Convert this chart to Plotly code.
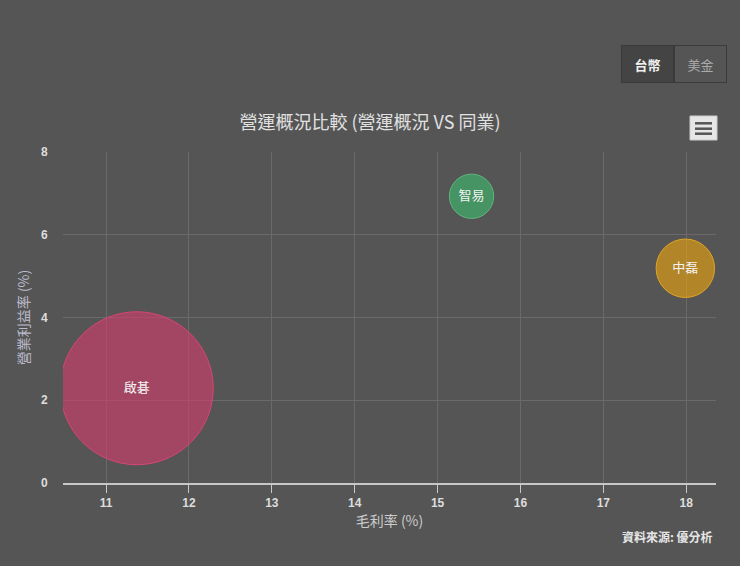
import plotly.graph_objects as go

# 公司、毛利率、營業利益率、規模 (泡泡大小)
companies = ["啟碁", "智易", "中磊"]
gross_margin = [11.37, 15.41, 17.99]
op_margin = [2.29, 6.93, 5.19]
bubble_size = [100, 8.4, 14.6]

fills = ["rgba(215,60,110,0.6)", "rgba(60,190,110,0.6)", "rgba(240,165,10,0.6)"]
borders = ["rgb(215,70,115)", "rgb(95,180,125)", "rgb(225,165,35)"]

W, H = 740, 566
L, R, T, B = 63, 24, 152, 83
pw, ph = W - L - R, H - T - B


def px(x):
    return (x - L) / pw


def py(y):
    return (H - B - y) / ph


font = "Noto Sans CJK TC, Liberation Sans, Arial, sans-serif"
tickfont = dict(size=12, color="#dddddd", family="Liberation Sans, Arial", weight="bold")
sizeref = 2 * max(bubble_size) / (153 ** 2)

fig = go.Figure()
fig.add_trace(go.Scatter(
    x=gross_margin, y=op_margin, text=companies,
    mode="markers+text", textposition="middle center",
    textfont=dict(color="#f2f2f2", size=13, family=font),
    marker=dict(size=bubble_size, sizemode="area", sizeref=sizeref,
                color=fills, line=dict(color=borders, width=1), opacity=1),
    hoverinfo="skip", showlegend=False, cliponaxis=True,
))

fig.update_layout(
    width=W, height=H,
    margin=dict(l=L, r=R, t=T, b=B),
    paper_bgcolor="#555555", plot_bgcolor="#555555",
    font=dict(family=font, color="#dddddd"),
    title=dict(text="營運概況比較 (營運概況 VS 同業)", x=0.5, xref="container",
               xanchor="center", y=1 - 123 / H, yanchor="middle",
               font=dict(size=18, color="#e0e0e0")),
    xaxis=dict(range=[10.48, 18.36], dtick=1, tick0=11,
               showgrid=True, gridcolor="#6a6a6a", gridwidth=1,
               showline=True, linecolor="#c8c8c8", linewidth=2,
               ticks="outside", ticklen=8, tickcolor="#c8c8c8",
               tickfont=tickfont,
               title=dict(text="毛利率 (%)", font=dict(size=14, color="#cccccc"), standoff=4),
               zeroline=False),
    yaxis=dict(range=[0, 8], dtick=2, tick0=0,
               showgrid=True, gridcolor="#6a6a6a", gridwidth=1,
               showline=False, zeroline=False,
               ticks="outside", ticklen=12, tickcolor="rgba(0,0,0,0)",
               tickfont=tickfont,
               title=dict(text="營業利益率 (%)", font=dict(size=14, color="#bbbbcc"), standoff=8)),
)

# 台幣 / 美金 buttons
fig.add_annotation(x=px(647.5), y=py(64), xref="paper", yref="paper",
                   xanchor="center", yanchor="middle",
                   text="<b>台幣</b>", showarrow=False, width=51, height=36,
                   bgcolor="#444444", bordercolor="#3a3a3a", borderwidth=1, borderpad=0,
                   font=dict(size=13, color="#f0f0f0"))
fig.add_annotation(x=px(700.5), y=py(64), xref="paper", yref="paper",
                   xanchor="center", yanchor="middle",
                   text="美金", showarrow=False, width=51, height=36,
                   bgcolor="#555555", bordercolor="#3a3a3a", borderwidth=1, borderpad=0,
                   font=dict(size=13, color="#aaaaaa"))

# menu icon
fig.add_shape(type="rect", xref="paper", yref="paper",
              x0=px(690), x1=px(717), y0=py(140), y1=py(116),
              fillcolor="#e6e6e6", line=dict(color="#cccccc", width=1), layer="above")
for ly in [123.3, 128.7, 133.7]:
    fig.add_shape(type="line", xref="paper", yref="paper",
                  x0=px(695), x1=px(712), y0=py(ly), y1=py(ly),
                  line=dict(color="#555555", width=2.5), layer="above")

# credit
fig.add_annotation(x=px(715), y=py(536), xref="paper", yref="paper",
                   xanchor="right", yanchor="middle", showarrow=False,
                   text="<b>資料來源: 優分析</b>",
                   font=dict(size=12, color="#e6e6e6"))

fig.write_html("out.html", config={"displayModeBar": False},
               post_script="document.body.style.margin='0';document.body.style.background='#555555';")
